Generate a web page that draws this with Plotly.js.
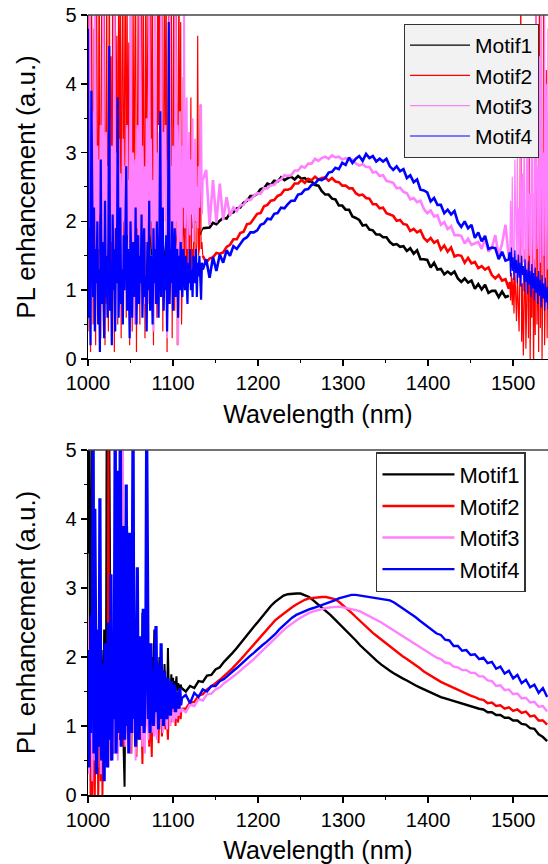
<!DOCTYPE html>
<html>
<head>
<meta charset="utf-8">
<script src="https://cdn.plot.ly/plotly-3.0.1.min.js"></script>
<style>html,body{margin:0;padding:0;background:#fff;}#chart{width:548px;height:864px;}</style>
</head>
<body>
<div id="chart"></div>
<script>
// ---------- helpers (wavelength grids only) ----------
function seq(a, b, s) { const r = []; for (let v = a; v <= b + 1e-9; v += s) r.push(Math.round(v * 100) / 100); return r; }

// ---------- series names / colours ----------
const seriesNames = ["Motif1", "Motif2", "Motif3", "Motif4"];
const seriesColors = ["#000000", "#ff0000", "#ff80ff", "#0000ff"];

// ---------- TOP PANEL wavelength grids ----------
const topXLeft = seq(1000, 1135, 1);
const topXMid = seq(1139, 1495, 4);
const topXRight = seq(1496, 1541, 1);
const topBlackXLeft = seq(1000, 1135, 3);

// ---------- TOP PANEL values ----------
const topBlackLeft = [1.4,2.1,0.9,1.8,2.6,1.2,1.9,0.8,2.3,1.5,1.1,2.4,1.7,0.9,2.0,1.3,2.5,1.6,1.0,2.2,1.4,1.8,2.6,1.1,1.9,1.5,2.3,1.2,1.7,2.1,1.4,2.0,1.6,2.4,1.5,1.9,2.2,1.7,2.1,1.8,2.3,1.9,2.0,2.2,1.8,1.9];
const topBlackMid = [1.90,1.91,1.98,1.96,2.01,2.05,2.04,2.12,2.13,2.19,
  2.20,2.27,2.30,2.37,2.37,2.40,2.47,2.48,2.55,2.53,
  2.59,2.58,2.64,2.60,2.63,2.65,2.61,2.66,2.62,2.63,
  2.58,2.58,2.53,2.52,2.44,2.39,2.39,2.33,2.32,2.23,
  2.23,2.17,2.17,2.07,2.05,2.02,1.94,1.95,1.88,1.87,
  1.81,1.81,1.77,1.77,1.70,1.66,1.67,1.63,1.64,1.57,
  1.61,1.53,1.58,1.45,1.45,1.44,1.33,1.40,1.30,1.31,
  1.23,1.27,1.23,1.27,1.17,1.12,1.17,1.11,1.14,1.02,
  1.09,1.01,1.08,0.96,0.99,0.99,0.90,0.98,0.90,0.92];

const topRedLeft = [0.4,5.6,1.2,0.1,6.0,2.3,0.5,4.8,3.1,0.2,
  5.9,1.8,0.6,6.2,2.7,0.3,5.1,4.0,1.1,6.5,
  0.2,3.6,5.7,1.5,0.4,6.1,2.9,4.4,0.7,5.8,
  3.3,0.1,6.3,1.9,4.7,0.5,5.5,2.4,6.0,0.3,
  4.1,5.9,1.4,3.8,6.4,0.6,5.2,2.1,4.6,0.2,
  6.2,3.0,0.4,5.6,1.7,4.3,6.1,0.1,3.5,5.4,
  2.2,0.5,6.0,4.9,1.3,5.7,3.2,0.3,6.3,2.6,
  4.5,5.8,0.8,3.9,6.1,1.6,5.0,0.2,4.2,6.4,
  2.8,0.6,5.5,3.4,6.0,1.0,4.8,5.9,0.4,3.7,
  6.2,2.0,5.3,0.1,4.6,6.0,1.2,3.1,5.7,0.3,
  4.4,6.1,0.7,2.5,5.4,0.2,3.6,6.0,1.4,4.9,
  0.5,1.3,4.1,1.4,1.2,3.3,1.5,1.3,2.6,1.4,
  1.5,3.8,1.3,1.6,1.4,2.9,1.5,1.4,1.7,4.7,
  1.5,1.6,3.7,1.6,1.7,1.5];
const topRedMid = [1.40,1.46,1.48,1.54,1.53,1.55,1.63,1.66,1.74,1.74,
  1.83,1.85,1.96,1.97,2.05,2.11,2.12,2.22,2.24,2.30,
  2.31,2.37,2.39,2.46,2.46,2.48,2.55,2.55,2.60,2.56,
  2.62,2.60,2.65,2.61,2.63,2.64,2.59,2.63,2.58,2.57,
  2.52,2.52,2.48,2.48,2.41,2.38,2.39,2.34,2.33,2.25,
  2.25,2.19,2.20,2.12,2.10,2.08,2.01,2.02,1.96,1.95,
  1.86,1.89,1.84,1.87,1.76,1.71,1.76,1.69,1.72,1.59,
  1.65,1.56,1.62,1.49,1.51,1.50,1.40,1.47,1.39,1.41,
  1.32,1.35,1.30,1.33,1.22,1.17,1.22,1.14,1.16,1.02];
const topRedRight = [1.12,0.85,1.25,0.78,1.18,0.66,1.30,0.92,0.55,1.21,
  0.70,0.40,1.35,5.6,0.25,1.10,0.05,0.95,1.60,0.15,
  0.80,2.10,0.30,3.50,0.00,1.20,0.60,2.40,-0.2,1.45,
  0.35,6.2,0.50,1.80,0.10,5.9,0.45,2.9,0.0,1.3,
  6.1,0.2,1.1,4.2,0.3,2.5];

const topPinkLeft = [2.4,1.3,5.4,1.8,1.0,3.6,2.7,1.5,5.8,2.3,
  1.2,3.1,1.6,2.9,2.1,3.4,1.3,2.5,5.7,1.4,
  2.6,3.3,1.4,2.8,0.9,3.5,2.2,1.7,3.1,2.0,
  1.1,5.9,1.9,3.0,2.4,0.6,3.2,1.6,2.7,2.0,
  1.3,3.2,2.0,2.8,1.0,2.5,3.4,1.8,2.6,1.2,
  5.3,2.2,1.3,3.0,2.7,0.5,2.9,1.9,3.4,2.3,
  1.0,5.6,2.1,1.5,3.1,2.4,0.8,2.8,1.7,3.5,
  2.4,1.2,5.5,1.8,3.2,2.0,2.6,0.4,2.9,5.2,
  1.6,3.0,1.1,2.5,3.3,1.4,5.7,2.1,1.0,3.3,
  2.6,3.4,1.2,0.3,2.9,2.2,5.4,1.5,2.8,1.1,
  3.1,2.4,1.3,5.1,2.0,3.4,0.2,2.7,3.6,1.8,
  1.4,3.1,2.2,5.0,1.9,2.6,3.8,1.6,2.4,3.3,
  1.8,2.9,2.1,3.5,1.7,2.6,3.2,2.0,2.5,1.9,
  2.8,2.2,3.0,3.7,2.1,2.6];
const topPinkMid = [2.75,1.95,2.60,1.98,2.55,2.02,2.35,2.08,2.20,2.15,
  2.23,2.24,2.32,2.31,2.37,2.41,2.40,2.48,2.48,2.53,
  2.53,2.59,2.61,2.67,2.66,2.67,2.74,2.74,2.80,2.78,
  2.84,2.84,2.91,2.88,2.92,2.94,2.91,2.96,2.93,2.94,
  2.90,2.92,2.89,2.90,2.84,2.81,2.83,2.79,2.79,2.71,
  2.72,2.66,2.67,2.59,2.58,2.56,2.48,2.49,2.43,2.41,
  2.32,2.34,2.28,2.30,2.18,2.12,2.16,2.07,2.09,1.95,
  1.99,1.89,1.93,1.80,1.80,1.79,1.68,1.75,1.66,1.68,
  1.70,1.60,1.75,1.56,1.62,1.80,1.50,1.68,1.95,1.47];
const topPinkRight = [1.55,2.30,1.30,2.65,1.45,1.20,2.90,1.60,1.35,3.10,
  1.25,2.20,1.50,3.40,1.10,2.70,1.40,3.80,1.20,1.70,
  3.20,1.05,4.10,1.50,2.40,1.15,4.60,1.80,1.00,3.50,
  1.30,5.20,1.60,2.80,0.95,4.40,1.40,5.60,1.10,3.00,
  1.50,5.30,0.90,4.00,1.30,4.80];

const topBlueLeft = [4.8,0.6,1.9,0.2,3.9,1.4,0.9,2.2,0.4,1.6,
  1.1,2.0,0.5,1.3,0.1,2.9,0.8,1.7,1.2,0.3,
  2.3,0.9,1.5,0.6,1.8,4.55,0.7,1.4,0.2,2.1,
  1.0,1.6,0.4,1.9,1.1,3.8,0.6,1.5,2.2,0.8,
  1.3,0.5,1.8,1.0,2.4,2.8,0.7,1.6,1.2,0.3,
  2.0,1.1,0.6,1.7,1.4,0.9,2.2,0.5,1.3,1.8,
  0.8,1.5,1.1,2.1,0.6,1.4,1.9,0.9,1.2,0.4,
  1.7,1.0,2.3,0.7,1.5,1.2,0.5,1.9,1.1,1.6,
  0.8,2.0,1.3,0.6,1.7,3.6,0.9,1.4,2.2,0.7,
  1.5,1.0,1.8,0.4,1.3,4.9,0.8,1.6,1.1,2.0,
  0.7,1.4,1.9,0.9,1.2,1.6,0.6,1.5,1.0,1.7,
  1.2,0.9,1.6,1.3,1.0,1.5,1.2,0.8,1.4,1.1,
  1.6,1.0,1.3,0.9,1.5,1.2,1.1,1.6,0.9,1.4,
  1.2,1.5,1.0,0.86,1.4,1.3];
const topBlueMid = [1.45,1.18,1.48,1.28,1.52,1.40,1.58,1.50,1.64,1.60,
  1.67,1.74,1.77,1.84,1.84,1.87,1.95,1.97,2.04,2.03,
  2.11,2.12,2.20,2.19,2.25,2.30,2.30,2.39,2.40,2.46,
  2.47,2.53,2.55,2.61,2.60,2.63,2.71,2.72,2.78,2.76,
  2.85,2.82,2.93,2.85,2.91,2.95,2.88,2.98,2.92,2.95,
  2.87,2.91,2.87,2.91,2.80,2.75,2.80,2.73,2.76,2.63,
  2.67,2.57,2.61,2.46,2.45,2.42,2.29,2.34,2.24,2.24,
  2.12,2.17,2.10,2.15,1.99,1.92,2.00,1.90,1.95,1.76,
  1.84,1.71,1.79,1.60,1.62,1.61,1.45,1.56,1.43,1.45];
const topBlueRight = [1.55,1.20,1.62,1.28,1.48,1.15,1.58,1.25,1.44,1.10,
  1.52,1.18,1.40,1.05,1.50,1.22,1.35,0.98,1.45,1.12,
  1.30,0.95,1.42,1.08,1.28,0.90,1.38,1.02,1.25,0.85,
  1.33,0.96,1.20,0.80,1.28,0.92,1.15,0.75,1.22,0.88,
  1.10,0.70,1.18,0.82,1.05,0.72];

// ---------- BOTTOM PANEL wavelength grids ----------
const botXLeft = seq(1000, 1110, 1);
const botXRight = seq(1115, 1540, 5);

// ---------- BOTTOM PANEL values ----------
const botBlackLeft = [3.5,5.6,2.6,1.1,5.3,0.8,1.9,1.4,2.3,0.9,
  1.6,2.2,0.7,1.8,1.2,0.4,2.1,1.5,1.0,2.4,
  1.3,0.8,5.8,2.0,1.1,5.4,1.7,0.9,2.2,1.4,
  0.6,1.9,1.2,2.5,1.0,1.6,3.0,0.8,2.1,1.3,
  1.8,1.1,0.5,0.12,1.5,2.0,3.9,1.2,1.7,0.9,
  2.2,1.4,1.0,1.9,1.3,2.4,0.8,1.6,2.0,1.1,
  1.7,1.3,2.1,0.9,2.64,1.5,1.2,1.9,1.0,1.6,
  2.2,1.3,1.1,1.8,1.4,2.0,1.2,1.7,2.4,1.3,
  1.5,1.9,1.1,1.7,2.0,1.4,1.6,1.3,1.8,1.5,
  1.9,1.4,1.7,1.3,2.13,1.5,1.6,1.45,1.75,1.55,
  1.7,1.5,1.65,1.55,1.72,1.5,1.62,1.58,1.52,1.6,
  1.55];
const botBlackRight = [1.50,1.58,1.55,1.65,1.64,1.73,1.74,1.82,1.85,1.93,
  1.99,2.06,2.13,2.21,2.28,2.36,2.44,2.51,2.59,2.67,
  2.74,2.80,2.85,2.89,2.91,2.92,2.92,2.92,2.90,2.87,
  2.82,2.77,2.72,2.67,2.61,2.55,2.49,2.42,2.36,2.30,
  2.24,2.17,2.11,2.05,1.99,1.94,1.89,1.84,1.80,1.76,
  1.72,1.69,1.66,1.62,1.59,1.56,1.53,1.50,1.47,1.45,
  1.42,1.40,1.38,1.36,1.34,1.32,1.31,1.29,1.27,1.25,
  1.24,1.20,1.20,1.16,1.16,1.12,1.12,1.08,1.08,1.03,
  1.02,0.97,0.96,0.88,0.84,0.78];

const botRedLeft = [1.2,0.5,1.8,0.0,0.9,-0.2,1.5,0.3,0.0,1.1,
  0.6,1.7,-0.1,0.8,1.4,0.2,1.9,0.0,1.0,0.4,
  1.6,0.7,2.0,1.2,5.6,0.9,1.5,0.5,1.8,1.1,
  0.7,1.4,1.9,0.9,1.3,0.6,1.7,1.1,0.8,1.5,
  1.0,1.8,0.7,1.3,1.6,0.9,1.2,1.9,0.8,1.4,
  1.1,0.6,1.5,1.2,1.7,0.9,1.3,0.55,1.6,1.0,
  1.4,0.8,1.7,1.1,0.45,1.3,1.5,0.9,1.2,1.6,
  1.0,1.4,0.7,1.3,1.1,0.55,1.5,1.2,0.9,1.4,
  1.2,1.0,1.5,0.75,1.3,1.1,1.4,0.85,1.25,1.15,
  1.35,0.95,1.3,1.1,0.8,1.25,1.15,1.35,1.05,1.3,
  1.2,1.1,1.35,1.0,1.3,1.15,1.05,1.3,1.2,1.1,
  1.25];
const botRedRight = [1.25,1.34,1.35,1.44,1.46,1.53,1.57,1.62,1.67,1.72,
  1.78,1.84,1.90,1.97,2.04,2.11,2.18,2.25,2.32,2.40,
  2.47,2.53,2.58,2.63,2.68,2.72,2.76,2.80,2.83,2.85,
  2.86,2.87,2.87,2.87,2.86,2.84,2.80,2.75,2.70,2.64,
  2.58,2.52,2.46,2.40,2.35,2.30,2.25,2.20,2.15,2.10,
  2.05,2.01,1.97,1.93,1.89,1.84,1.79,1.75,1.71,1.67,
  1.64,1.61,1.58,1.55,1.52,1.49,1.47,1.44,1.42,1.39,
  1.38,1.33,1.34,1.29,1.30,1.25,1.27,1.22,1.24,1.19,
  1.21,1.14,1.15,1.08,1.08,1.02];

const botPinkLeft = [2.55,0.3,1.6,0.8,2.1,0.2,1.3,1.9,0.5,1.1,
  1.7,0.4,2.2,0.9,1.4,0.3,1.8,1.0,0.6,1.5,
  2.0,0.7,1.2,1.9,0.4,1.6,1.0,2.3,0.8,1.3,
  1.7,0.6,1.4,2.0,1.1,0.5,1.8,1.2,0.9,1.5,
  2.5,5.5,1.0,1.6,0.7,1.3,1.9,0.8,1.4,1.1,
  0.6,1.7,1.2,0.9,1.5,2.1,0.5,1.3,1.0,1.6,
  0.8,1.4,1.9,1.1,0.7,1.5,1.2,0.6,1.6,1.0,
  1.3,0.8,1.7,1.1,1.4,0.9,1.6,1.2,0.85,1.4,
  1.1,0.8,1.5,1.2,0.95,1.4,1.1,1.3,0.9,1.35,
  1.0,1.3,1.15,0.95,1.4,1.1,1.25,1.0,1.35,1.1,
  1.2,1.05,1.3,1.15,1.1,1.25,1.2,1.15,1.3,1.2,
  1.25];
const botPinkRight = [1.20,1.31,1.29,1.39,1.37,1.46,1.47,1.53,1.56,1.62,
  1.66,1.71,1.76,1.81,1.86,1.91,1.97,2.03,2.09,2.16,
  2.22,2.28,2.34,2.39,2.44,2.49,2.53,2.57,2.61,2.64,
  2.66,2.68,2.70,2.71,2.72,2.73,2.73,2.72,2.71,2.70,
  2.68,2.66,2.63,2.60,2.57,2.54,2.50,2.46,2.42,2.38,
  2.34,2.30,2.27,2.23,2.19,2.15,2.11,2.07,2.03,1.99,
  1.97,1.92,1.91,1.86,1.85,1.81,1.81,1.77,1.77,1.72,
  1.72,1.66,1.65,1.58,1.59,1.52,1.53,1.46,1.47,1.40,
  1.41,1.34,1.35,1.28,1.29,1.21];

const botBlueLeft = [2.1,0.4,1.6,0.9,2.6,1.2,5.6,0.6,4.15,1.3,
  0.3,1.8,2.4,0.7,4.3,1.1,0.5,1.9,1.4,0.2,
  2.2,1.0,1.6,0.4,2.5,1.3,0.8,3.2,0.5,1.7,
  1.1,2.0,5.5,0.6,1.5,4.7,0.9,1.8,5.7,0.7,
  2.3,1.2,3.9,0.8,1.6,4.5,1.0,2.2,0.6,3.8,
  1.4,0.9,2.6,5.4,1.1,1.8,0.7,2.9,3.3,1.2,
  0.8,1.9,2.3,1.0,1.6,2.7,0.9,1.5,2.1,5.3,
  2.78,1.1,1.7,0.9,2.2,1.3,1.8,1.0,1.5,2.0,
  2.45,1.2,1.6,0.95,1.9,1.3,2.2,1.1,1.5,1.0,
  1.8,1.25,1.6,1.1,1.7,1.3,1.5,1.15,1.65,1.25,
  1.55,1.3,1.6,1.2,1.5,1.35,1.45,1.25,1.55,1.3,
  1.4];
const botBlueRight = [1.45,1.33,1.48,1.42,1.53,1.50,1.58,1.58,1.65,1.68,
  1.74,1.79,1.84,1.90,1.95,2.01,2.06,2.12,2.17,2.22,
  2.27,2.33,2.40,2.46,2.52,2.57,2.61,2.64,2.67,2.69,
  2.71,2.73,2.75,2.77,2.79,2.82,2.85,2.87,2.89,2.90,
  2.90,2.89,2.88,2.87,2.86,2.85,2.85,2.84,2.82,2.79,
  2.75,2.71,2.67,2.62,2.58,2.53,2.48,2.43,2.38,2.34,
  2.32,2.25,2.24,2.16,2.16,2.09,2.10,2.03,2.04,1.97,
  1.99,1.91,1.93,1.83,1.86,1.76,1.80,1.69,1.74,1.62,
  1.67,1.56,1.60,1.48,1.55,1.42];

// ---------- assemble traces ----------
const traces = [];
function part(x, y, i, width, xa, ya, leg, show) {
  traces.push({
    type: 'scatter', mode: 'lines', x: x, y: y, name: seriesNames[i],
    legendgroup: leg + i, showlegend: show, legendrank: i + 1, legend: leg,
    line: {color: seriesColors[i], width: width}, xaxis: xa, yaxis: ya
  });
}
const last = a => a[a.length - 1];

// top panel: black, red, pink, blue (noisy ends drawn thin, middle band drawn thicker)
part(topBlackXLeft, topBlackLeft, 0, 1.2, 'x', 'y', 'legend', true);
part([last(topBlackXLeft)].concat(topXMid), [last(topBlackLeft)].concat(topBlackMid), 0, 2.6, 'x', 'y', 'legend', false);
const topSets = [null, [topRedLeft, topRedMid, topRedRight], [topPinkLeft, topPinkMid, topPinkRight], [topBlueLeft, topBlueMid, topBlueRight]];
const leftW = [0, 1.2, 2.0, 2.2];
for (let i = 1; i < 4; i++) {
  const [L, M, R] = topSets[i];
  part(topXLeft, L, i, leftW[i], 'x', 'y', 'legend', false);
  part([last(topXLeft)].concat(topXMid, [topXRight[0]]), [last(L)].concat(M, [R[0]]), i, 2.6, 'x', 'y', 'legend', false);
  part(topXRight, R, i, 1.2, 'x', 'y', 'legend', true);
}

// bottom panel
const botSets = [[botBlackLeft, botBlackRight], [botRedLeft, botRedRight], [botPinkLeft, botPinkRight], [botBlueLeft, botBlueRight]];
const botLeftW = [2.0, 2.0, 2.0, 3.2];
for (let i = 0; i < 4; i++) {
  const [L, R] = botSets[i];
  part(botXLeft, L, i, botLeftW[i], 'x2', 'y2', 'legend2', false);
  part([last(botXLeft)].concat(botXRight), [last(L)].concat(R), i, 2.4, 'x2', 'y2', 'legend2', true);
}

const FONT = 'Liberation Sans, Arial, sans-serif';
function xAx(anchor) {
  return {
    anchor: anchor, domain: [0, 1], range: [1000, 1541], tick0: 1000, dtick: 100,
    showline: true, linecolor: '#000', linewidth: 1.5, mirror: false,
    ticks: 'outside', ticklen: 6, tickwidth: 1.5, tickcolor: '#000',
    minor: {dtick: 50, ticks: 'outside', ticklen: 3, tickwidth: 1, tickcolor: '#000'},
    showgrid: false, zeroline: false,
    tickfont: {family: FONT, size: 20, color: '#000'},
    title: {text: 'Wavelength (nm)', font: {family: FONT, size: 25, color: '#000'}, standoff: 12}
  };
}
function yAx(anchor, domain) {
  return {
    anchor: anchor, domain: domain, range: [0, 5], tick0: 0, dtick: 1,
    showline: true, linecolor: '#000', linewidth: 1.5,
    ticks: 'outside', ticklen: 6, tickwidth: 1.5, tickcolor: '#000',
    minor: {dtick: 0.5, ticks: 'outside', ticklen: 3, tickwidth: 1, tickcolor: '#000'},
    showgrid: false, zeroline: false,
    tickfont: {family: FONT, size: 20, color: '#000'},
    title: {text: 'PL enhancement (a.u.)', font: {family: FONT, size: 26, color: '#000'}, standoff: 22}
  };
}

const layout = {
  width: 548, height: 864,
  margin: {l: 88, r: 0, t: 15, b: 69},
  paper_bgcolor: '#fff', plot_bgcolor: '#fff',
  font: {family: FONT, color: '#000'},
  showlegend: true,
  xaxis: xAx('y'), yaxis: yAx('x', [0.559, 1]),
  xaxis2: xAx('y2'), yaxis2: yAx('x2', [0, 0.4423]),
  legend: {x: 0.687, xanchor: 'left', y: 0.9885, yanchor: 'top', bgcolor: '#f2f2f2',
    bordercolor: '#333', borderwidth: 1, font: {family: FONT, size: 21, color: '#000'},
    itemwidth: 60, tracegroupgap: 0, traceorder: 'normal'},
  legend2: {x: 0.626, xanchor: 'left', y: 0.4397, yanchor: 'top', bgcolor: '#fff',
    bordercolor: '#333', borderwidth: 1.5, font: {family: FONT, size: 22, color: '#000'},
    itemwidth: 72, tracegroupgap: 0, traceorder: 'normal'},
  shapes: [
    {type: 'line', xref: 'x domain', yref: 'y domain', x0: 0, x1: 1, y0: 1, y1: 1, line: {color: '#444', width: 1.5}},
    {type: 'line', xref: 'x2 domain', yref: 'y2 domain', x0: 0, x1: 1, y0: 1, y1: 1, line: {color: '#444', width: 1.5}}
  ]
};

Plotly.newPlot('chart', traces, layout, {displayModeBar: false, staticPlot: true});
</script>
</body>
</html>
